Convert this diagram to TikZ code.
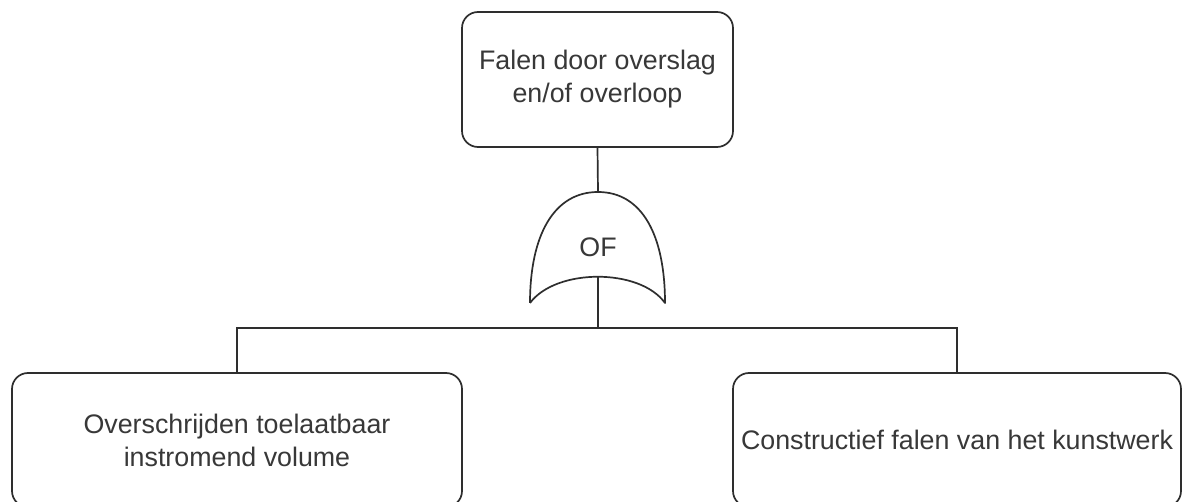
\documentclass[tikz,border=0pt]{standalone}
\usepackage{fontspec}
\setmainfont{Liberation Sans}
\begin{document}
\begin{tikzpicture}[x=1pt,y=-1pt,
  line/.style={draw=black!82,line width=1.7pt},
  evt/.style={line,rounded corners=16pt,fill=white,align=center,text=black!78,
    font=\fontsize{26.8}{33}\selectfont,inner sep=0pt},
  gatelbl/.style={text=black!78,font=\fontsize{26.8}{33}\selectfont,inner sep=0pt}]
\useasboundingbox (0,0) rectangle (1182,502);
\clip (0,0) rectangle (1182,502);
\fill[white] (0,0) rectangle (1182,502);
% top event
\node[evt,minimum width=271pt,minimum height=135pt] (top) at (597.5,79.5)
  {Falen door overslag\\en/of overloop};
% OR gate
\coordinate (gtop) at (598,192);
\coordinate (gbot) at (598,277);
\coordinate (bar) at (598,328);
\draw[line,line join=round] (530,303) .. controls (530,235) and (554,192) .. (gtop)
  .. controls (642,192) and (665,235) .. (665,303)
  .. controls (640,268) and (556,268) .. (530,303);
\node[gatelbl] (of) at (598,247) {OF};
% bottom events
\node[evt,minimum width=450pt,minimum height=134pt] (left) at (237,440)
  {Overschrijden toelaatbaar\\instromend volume};
\node[evt,minimum width=448pt,minimum height=134pt] (right) at (957,440)
  {Constructief falen van het kunstwerk};
% connectors
\draw[line] (top.south) -- (gtop);
\draw[line] (gbot) -- (bar);
\draw[line] (left.north) |- (bar) -| (right.north);
\end{tikzpicture}
\end{document}
